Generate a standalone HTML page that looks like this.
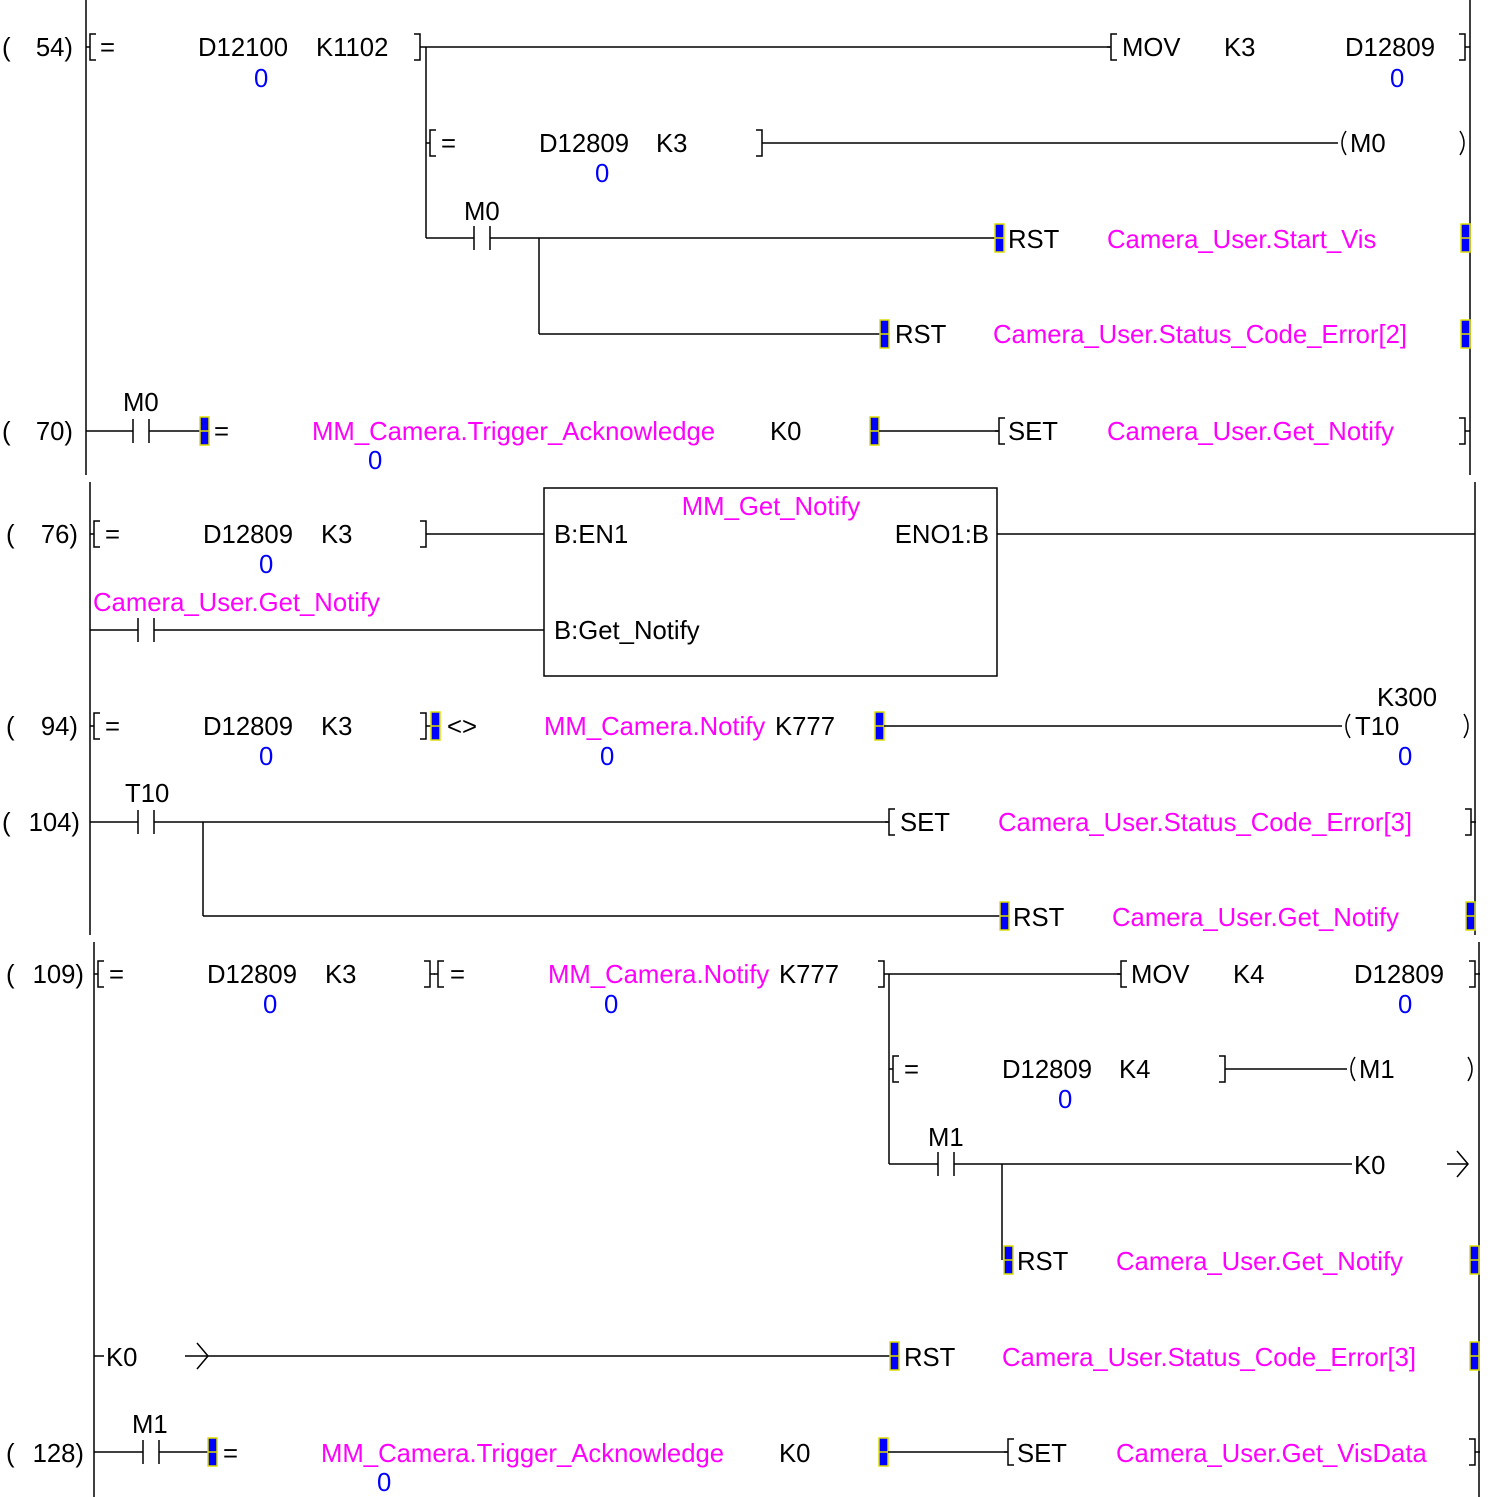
<!DOCTYPE html>
<html><head><meta charset="utf-8"><style>
html,body{margin:0;padding:0;background:#fff;}
svg{display:block;}
text{font-family:"Liberation Sans",Arial,sans-serif;font-size:25.7px;fill:#000;}
.p{fill:#ff00ff;}
.b{fill:#0000ff;}
line,path,polyline{stroke:#000;stroke-width:1.5;fill:none;}
.m{fill:#0000ff;stroke:#dddd00;stroke-width:1.5;}
</style></head><body>
<svg width="1491" height="1497" viewBox="0 0 1491 1497" xmlns="http://www.w3.org/2000/svg">
<defs>
<g id="lb"><path d="M7,-13 H1 V13 H7"/><line x1="-3" y1="0" x2="1" y2="0"/></g>
<g id="rb"><path d="M-7,-13 H-1 V13 H-7"/><line x1="-1" y1="0" x2="4" y2="0"/></g>
<g id="mk"><rect class="m" x="0" y="-14" width="9" height="28"/><line x1="0" y1="0" x2="9" y2="0" style="stroke:#dddd00"/></g>
<g id="ct"><line x1="0" y1="-12" x2="0" y2="12"/><line x1="16" y1="-12" x2="16" y2="12"/></g>
<g id="cl"><path d="M8,-12 Q0,0 8,12"/></g>
<g id="cr"><path d="M-8,-12 Q0,0 -8,12"/></g>
</defs>

<line x1="86" y1="0" x2="86" y2="475"/><line x1="1470" y1="0" x2="1470" y2="475"/>
<line x1="90" y1="482" x2="90" y2="935"/><line x1="1475" y1="482" x2="1475" y2="935"/>
<line x1="94" y1="942" x2="94" y2="1497"/><line x1="1479" y1="942" x2="1479" y2="1497"/>

<text x="2" y="56">(</text><text x="73" y="56" text-anchor="end">54)</text>
<use href="#lb" x="89" y="47"/><text x="100" y="56">=</text>
<text x="198" y="56">D12100</text><text x="316" y="56">K1102</text>
<use href="#rb" x="421" y="47"/>
<text class="b" x="254" y="87">0</text>
<line x1="425" y1="47" x2="1110" y2="47"/>
<use href="#lb" x="1110" y="47"/><text x="1122" y="56">MOV</text><text x="1224" y="56">K3</text><text x="1345" y="56">D12809</text>
<use href="#rb" x="1466" y="47"/><text class="b" x="1390" y="87">0</text>
<line x1="426" y1="47" x2="426" y2="238"/>

<use href="#lb" x="429" y="143"/><text x="441" y="152">=</text>
<text x="539" y="152">D12809</text><text x="656" y="152">K3</text>
<use href="#rb" x="763" y="143"/><text class="b" x="595" y="182">0</text>
<line x1="767" y1="143" x2="1338" y2="143"/>
<use href="#cl" x="1338" y="143"/><text x="1350" y="152">M0</text><use href="#cr" x="1468" y="143"/>

<text x="464" y="220">M0</text>
<line x1="426" y1="238" x2="474" y2="238"/><use href="#ct" x="474" y="238"/>
<line x1="490" y1="238" x2="995" y2="238"/>
<use href="#mk" x="995" y="238"/><text x="1008" y="248">RST</text>
<text class="p" x="1107" y="248">Camera_User.Start_Vis</text>
<use href="#mk" x="1461" y="238"/>
<line x1="539" y1="238" x2="539" y2="334"/><line x1="539" y1="334" x2="880" y2="334"/>
<use href="#mk" x="880" y="334"/><text x="895" y="343">RST</text>
<text class="p" x="993" y="343">Camera_User.Status_Code_Error[2]</text>
<use href="#mk" x="1461" y="334"/>

<text x="2" y="440">(</text><text x="73" y="440" text-anchor="end">70)</text>
<text x="123" y="411">M0</text>
<line x1="86" y1="431" x2="133" y2="431"/><use href="#ct" x="133" y="431"/>
<line x1="149" y1="431" x2="200" y2="431"/>
<use href="#mk" x="200" y="431"/><text x="214" y="440">=</text>
<text class="p" x="312" y="440">MM_Camera.Trigger_Acknowledge</text>
<text x="770" y="440">K0</text><use href="#mk" x="870" y="431"/>
<line x1="879" y1="431" x2="998" y2="431"/>
<use href="#lb" x="998" y="431"/><text x="1008" y="440">SET</text>
<text class="p" x="1107" y="440">Camera_User.Get_Notify</text>
<use href="#rb" x="1466" y="431"/>
<text class="b" x="368" y="469">0</text>

<text x="6" y="543">(</text><text x="78" y="543" text-anchor="end">76)</text>
<use href="#lb" x="93" y="534"/><text x="105" y="543">=</text>
<text x="203" y="543">D12809</text><text x="321" y="543">K3</text>
<use href="#rb" x="427" y="534"/><text class="b" x="259" y="573">0</text>
<line x1="431" y1="534" x2="544" y2="534"/>
<rect x="544" y="488" width="453" height="188" style="fill:none;stroke:#000;stroke-width:1.5"/>
<text class="p" x="771" y="515" text-anchor="middle">MM_Get_Notify</text>
<text x="554" y="543">B:EN1</text><text x="989" y="543" text-anchor="end">ENO1:B</text>
<line x1="997" y1="534" x2="1475" y2="534"/>
<text class="p" x="93" y="611">Camera_User.Get_Notify</text>
<line x1="90" y1="630" x2="138" y2="630"/><use href="#ct" x="138" y="630"/>
<line x1="154" y1="630" x2="544" y2="630"/>
<text x="554" y="639">B:Get_Notify</text>

<text x="6" y="735">(</text><text x="78" y="735" text-anchor="end">94)</text>
<use href="#lb" x="93" y="726"/><text x="105" y="735">=</text>
<text x="203" y="735">D12809</text><text x="321" y="735">K3</text>
<use href="#rb" x="427" y="726"/><use href="#mk" x="431" y="726"/>
<text x="447" y="735">&lt;&gt;</text>
<text class="p" x="544" y="735">MM_Camera.Notify</text><text x="775" y="735">K777</text>
<use href="#mk" x="875" y="726"/>
<line x1="884" y1="726" x2="1342" y2="726"/>
<use href="#cl" x="1342" y="726"/><text x="1355" y="735">T10</text>
<text x="1377" y="706">K300</text><use href="#cr" x="1472" y="726"/>
<text class="b" x="259" y="765">0</text><text class="b" x="600" y="765">0</text><text class="b" x="1398" y="765">0</text>

<text x="2" y="831">(</text><text x="80" y="831" text-anchor="end">104)</text>
<text x="125" y="802">T10</text>
<line x1="90" y1="822" x2="138" y2="822"/><use href="#ct" x="138" y="822"/>
<line x1="154" y1="822" x2="888" y2="822"/>
<use href="#lb" x="888" y="822"/><text x="900" y="831">SET</text>
<text class="p" x="998" y="831">Camera_User.Status_Code_Error[3]</text>
<use href="#rb" x="1472" y="822"/>
<line x1="203" y1="822" x2="203" y2="916"/><line x1="203" y1="916" x2="1000" y2="916"/>
<use href="#mk" x="1000" y="916"/><text x="1013" y="926">RST</text>
<text class="p" x="1112" y="926">Camera_User.Get_Notify</text>
<use href="#mk" x="1466" y="916"/>

<text x="6" y="983">(</text><text x="84" y="983" text-anchor="end">109)</text>
<use href="#lb" x="97" y="974"/><text x="109" y="983">=</text>
<text x="207" y="983">D12809</text><text x="325" y="983">K3</text>
<use href="#rb" x="431" y="974"/><use href="#lb" x="437" y="974"/><text x="450" y="983">=</text>
<text class="p" x="548" y="983">MM_Camera.Notify</text><text x="779" y="983">K777</text>
<use href="#rb" x="885" y="974"/>
<line x1="889" y1="974" x2="1120" y2="974"/>
<use href="#lb" x="1120" y="974"/><text x="1131" y="983">MOV</text><text x="1233" y="983">K4</text><text x="1354" y="983">D12809</text>
<use href="#rb" x="1476" y="974"/>
<text class="b" x="263" y="1013">0</text><text class="b" x="604" y="1013">0</text><text class="b" x="1398" y="1013">0</text>
<line x1="889" y1="974" x2="889" y2="1164"/>

<use href="#lb" x="892" y="1069"/><text x="904" y="1078">=</text>
<text x="1002" y="1078">D12809</text><text x="1119" y="1078">K4</text>
<use href="#rb" x="1226" y="1069"/><text class="b" x="1058" y="1108">0</text>
<line x1="1230" y1="1069" x2="1347" y2="1069"/>
<use href="#cl" x="1347" y="1069"/><text x="1359" y="1078">M1</text><use href="#cr" x="1476" y="1069"/>

<text x="928" y="1146">M1</text>
<line x1="889" y1="1164" x2="938" y2="1164"/><use href="#ct" x="938" y="1164"/>
<line x1="954" y1="1164" x2="1352" y2="1164"/>
<text x="1354" y="1174">K0</text>
<line x1="1447" y1="1164" x2="1468" y2="1164"/><polyline points="1457,1151 1468,1164 1457,1177"/>
<line x1="1002" y1="1164" x2="1002" y2="1260"/>
<use href="#mk" x="1004" y="1260"/><text x="1017" y="1270">RST</text>
<text class="p" x="1116" y="1270">Camera_User.Get_Notify</text>
<use href="#mk" x="1470" y="1260"/>

<line x1="94" y1="1356" x2="104" y2="1356"/><text x="106" y="1366">K0</text>
<line x1="185" y1="1356" x2="890" y2="1356"/><polyline points="197,1343 208,1356 197,1369"/>
<use href="#mk" x="890" y="1356"/><text x="904" y="1366">RST</text>
<text class="p" x="1002" y="1366">Camera_User.Status_Code_Error[3]</text>
<use href="#mk" x="1470" y="1356"/>

<text x="6" y="1462">(</text><text x="84" y="1462" text-anchor="end">128)</text>
<text x="132" y="1433">M1</text>
<line x1="94" y1="1452" x2="143" y2="1452"/><use href="#ct" x="143" y="1452"/>
<line x1="159" y1="1452" x2="208" y2="1452"/>
<use href="#mk" x="208" y="1452"/><text x="223" y="1462">=</text>
<text class="p" x="321" y="1462">MM_Camera.Trigger_Acknowledge</text>
<text x="779" y="1462">K0</text><use href="#mk" x="879" y="1452"/>
<line x1="888" y1="1452" x2="1007" y2="1452"/>
<use href="#lb" x="1007" y="1452"/><text x="1017" y="1462">SET</text>
<text class="p" x="1116" y="1462">Camera_User.Get_VisData</text>
<use href="#rb" x="1476" y="1452"/>
<text class="b" x="377" y="1491">0</text>
</svg>
</body></html>
